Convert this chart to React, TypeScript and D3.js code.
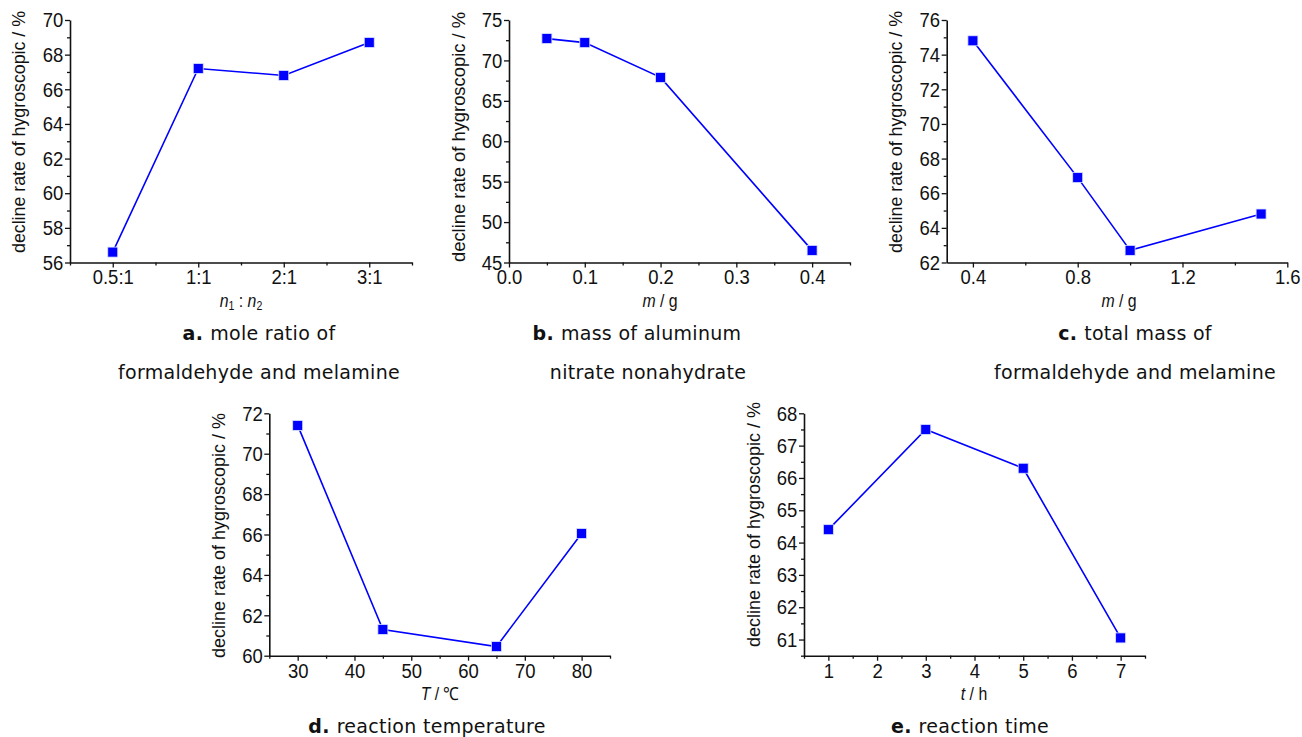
import React, { useEffect, useRef } from 'react';
import * as d3 from 'd3';

// panel a: mole ratio
const ratioLabels = ['0.5:1', '1:1', '2:1', '3:1'];
const ratioValues = [56.6, 67.2, 66.8, 68.7];
// panel b: aluminium nitrate mass
const alMass = [0.05, 0.1, 0.2, 0.4];
const alValues = [72.7, 72.2, 67.9, 46.5];
// panel c: total mass
const totalMass = [0.4, 0.8, 1.0, 1.5];
const totalValues = [74.8, 66.9, 62.7, 64.8];
// panel d: temperature
const temps = [30, 45, 65, 80];
const tempValues = [71.4, 61.3, 60.45, 66.05];
// panel e: time
const times = [1, 3, 5, 7];
const timeValues = [64.4, 67.5, 66.3, 61.05];

const yTitle = 'decline rate of hygroscopic / %';
const tickFont = '"Liberation Sans", Arial, sans-serif';
const capFont = '"DejaVu Sans", "Open Sans", sans-serif';
const BLUE = '#0000ff';
const SQ = 0.88; // horizontal squeeze, the original face is narrow

const range = (a, b, s) => d3.range(a, b + s / 2, s).map(v => +v.toFixed(4));

const panels = [
  {
    box: [70, 412, 262.5, 20],
    xDomain: [-0.5, 3.5], yDomain: [56, 70],
    xTicks: [0, 1, 2, 3], xMinor: [-0.5, 0.5, 1.5, 2.5, 3.5],
    xFmt: i => ratioLabels[i],
    yTicks: range(56, 70, 2), yMinor: range(57, 69, 2), yFmt: d => d,
    xs: [0, 1, 2, 3], ys: ratioValues,
    yTitlePos: [19, 132, 242], xTitle: 'n1', xTitlePos: [241, 307],
    caps: [{ b: 'a.', t: 'mole ratio of', x: 259, y: 340 }, { t: 'formaldehyde and melamine', x: 259, y: 379 }],
  },
  {
    box: [509, 850, 262.5, 20],
    xDomain: [0, 0.45], yDomain: [45, 75],
    xTicks: range(0, 0.4, 0.1), xMinor: range(0.05, 0.45, 0.1),
    xFmt: d => d.toFixed(1),
    yTicks: range(45, 75, 5), yMinor: range(47.5, 72.5, 5), yFmt: d => d,
    xs: alMass, ys: alValues,
    yTitlePos: [459, 137, 250], xTitle: 'm / g', xTitlePos: [660, 307],
    caps: [{ b: 'b.', t: 'mass of aluminum', x: 637, y: 340 }, { t: 'nitrate nonahydrate', x: 648, y: 379 }],
  },
  {
    box: [946.7, 1287.3, 262.5, 20],
    xDomain: [0.3, 1.6], yDomain: [62, 76],
    xTicks: range(0.4, 1.6, 0.4), xMinor: range(0.6, 1.4, 0.4),
    xFmt: d => d.toFixed(1),
    yTicks: range(62, 76, 2), yMinor: range(63, 75, 2), yFmt: d => d,
    xs: totalMass, ys: totalValues,
    yTitlePos: [896, 132, 242], xTitle: 'm / g', xTitlePos: [1119, 307],
    caps: [{ b: 'c.', t: 'total mass of', x: 1135, y: 340 }, { t: 'formaldehyde and melamine', x: 1135, y: 379 }],
  },
  {
    box: [269.3, 610, 655.7, 413.3],
    xDomain: [25, 85], yDomain: [60, 72],
    xTicks: range(30, 80, 10), xMinor: range(25, 85, 10),
    xFmt: d => d,
    yTicks: range(60, 72, 2), yMinor: range(61, 71, 2), yFmt: d => d,
    xs: temps, ys: tempValues,
    yTitlePos: [219, 535.5, 245], xTitle: 'T / \u2103', xTitlePos: [440, 700],
    caps: [{ b: 'd.', t: 'reaction temperature', x: 427, y: 733 }],
  },
  {
    box: [804, 1145, 655.7, 413.3],
    xDomain: [0.5, 7.5], yDomain: [60.5, 68],
    xTicks: range(1, 7, 1), xMinor: range(0.5, 7.5, 1),
    xFmt: d => d,
    yTicks: range(61, 68, 1), yMinor: range(60.5, 67.5, 1), yFmt: d => d,
    xs: times, ys: timeValues,
    yTitlePos: [754, 524.5, 245], xTitle: 't / h', xTitlePos: [974, 700],
    caps: [{ b: 'e.', t: 'reaction time', x: 970, y: 733 }],
  },
];

export default function App() {
  const ref = useRef(null);

  useEffect(() => {
    const svg = d3.select(ref.current);
    svg.selectAll('*').remove();

    panels.forEach(p => {
      const [xl, xr, yb, yt] = p.box;
      const x = d3.scaleLinear().domain(p.xDomain).range([xl, xr]);
      const y = d3.scaleLinear().domain(p.yDomain).range([yb, yt]);
      const g = svg.append('g');

      // minor ticks
      g.append('g')
        .attr('transform', `translate(0,${yb})`)
        .call(d3.axisBottom(x).tickValues(p.xMinor).tickSize(3).tickFormat(() => ''))
        .call(a => a.select('.domain').remove());
      g.append('g')
        .attr('transform', `translate(${xl},0)`)
        .call(d3.axisLeft(y).tickValues(p.yMinor).tickSize(3).tickFormat(() => ''))
        .call(a => a.select('.domain').remove());

      const xa = g.append('g')
        .attr('transform', `translate(0,${yb})`)
        .call(d3.axisBottom(x).tickValues(p.xTicks).tickSize(5).tickSizeOuter(0).tickPadding(2).tickFormat(p.xFmt));
      const ya = g.append('g')
        .attr('transform', `translate(${xl},0)`)
        .call(d3.axisLeft(y).tickValues(p.yTicks).tickSize(5).tickSizeOuter(0).tickPadding(2.5).tickFormat(p.yFmt));

      [xa, ya].forEach(a => {
        a.selectAll('text')
          .attr('font-family', tickFont)
          .attr('font-size', 21)
          .attr('fill', '#111')
          .attr('transform', `scale(${SQ},1)`);
        a.select('.domain').attr('stroke', '#111').attr('stroke-width', 1.6);
      });
      g.selectAll('line').attr('stroke', '#111').attr('stroke-width', 1.3);

      // y axis title, stretched to the span it has in the original
      const [tx, ty, tl] = p.yTitlePos;
      g.append('text')
        .attr('transform', `translate(${tx},${ty}) rotate(-90)`)
        .attr('text-anchor', 'middle')
        .attr('dominant-baseline', 'central')
        .attr('font-family', tickFont)
        .attr('font-size', 17.5)
        .attr('textLength', tl)
        .attr('lengthAdjust', 'spacingAndGlyphs')
        .attr('fill', '#111')
        .text(yTitle);

      // x axis title
      const [ax, ay] = p.xTitlePos;
      const xt = g.append('text')
        .attr('transform', `translate(${ax},${ay}) scale(${SQ},1)`)
        .attr('text-anchor', 'middle')
        .attr('font-family', tickFont)
        .attr('font-size', 18)
        .attr('fill', '#111');
      if (p.xTitle === 'n1') {
        xt.append('tspan').attr('font-style', 'italic').text('n');
        xt.append('tspan').attr('font-size', 12).attr('dy', 3).text('1');
        xt.append('tspan').attr('dy', -3).text(' : ');
        xt.append('tspan').attr('font-style', 'italic').text('n');
        xt.append('tspan').attr('font-size', 12).attr('dy', 3).text('2');
      } else {
        const [v, u] = p.xTitle.split(' / ');
        xt.append('tspan').attr('font-style', 'italic').text(v);
        xt.append('tspan').text(' / ' + u);
      }

      // line + square markers
      const pts = p.xs.map((d, i) => [x(d), y(p.ys[i])]);
      g.append('path')
        .attr('d', d3.line()(pts))
        .attr('fill', 'none')
        .attr('stroke', BLUE)
        .attr('stroke-width', 1.6);
      g.selectAll('rect.m')
        .data(pts)
        .join('rect')
        .attr('class', 'm')
        .attr('x', d => d[0] - 5)
        .attr('y', d => d[1] - 5)
        .attr('width', 10)
        .attr('height', 10)
        .attr('fill', BLUE)
        .attr('stroke', '#dde4ff')
        .attr('stroke-width', 0.8);

      // captions
      p.caps.forEach(c => {
        const t = g.append('text')
          .attr('x', c.x)
          .attr('y', c.y)
          .attr('text-anchor', 'middle')
          .attr('font-family', capFont)
          .attr('font-size', 19)
          .attr('letter-spacing', 0.3)
          .attr('fill', '#111');
        if (c.b) t.append('tspan').attr('font-weight', 'bold').text(c.b + '  ');
        t.append('tspan').text(c.t);
      });
    });
  }, []);

  return (
    <svg
      ref={ref}
      width={1302}
      height={737}
      style={{ position: 'absolute', left: 0, top: 0, background: '#fff' }}
    ></svg>
  );
}
